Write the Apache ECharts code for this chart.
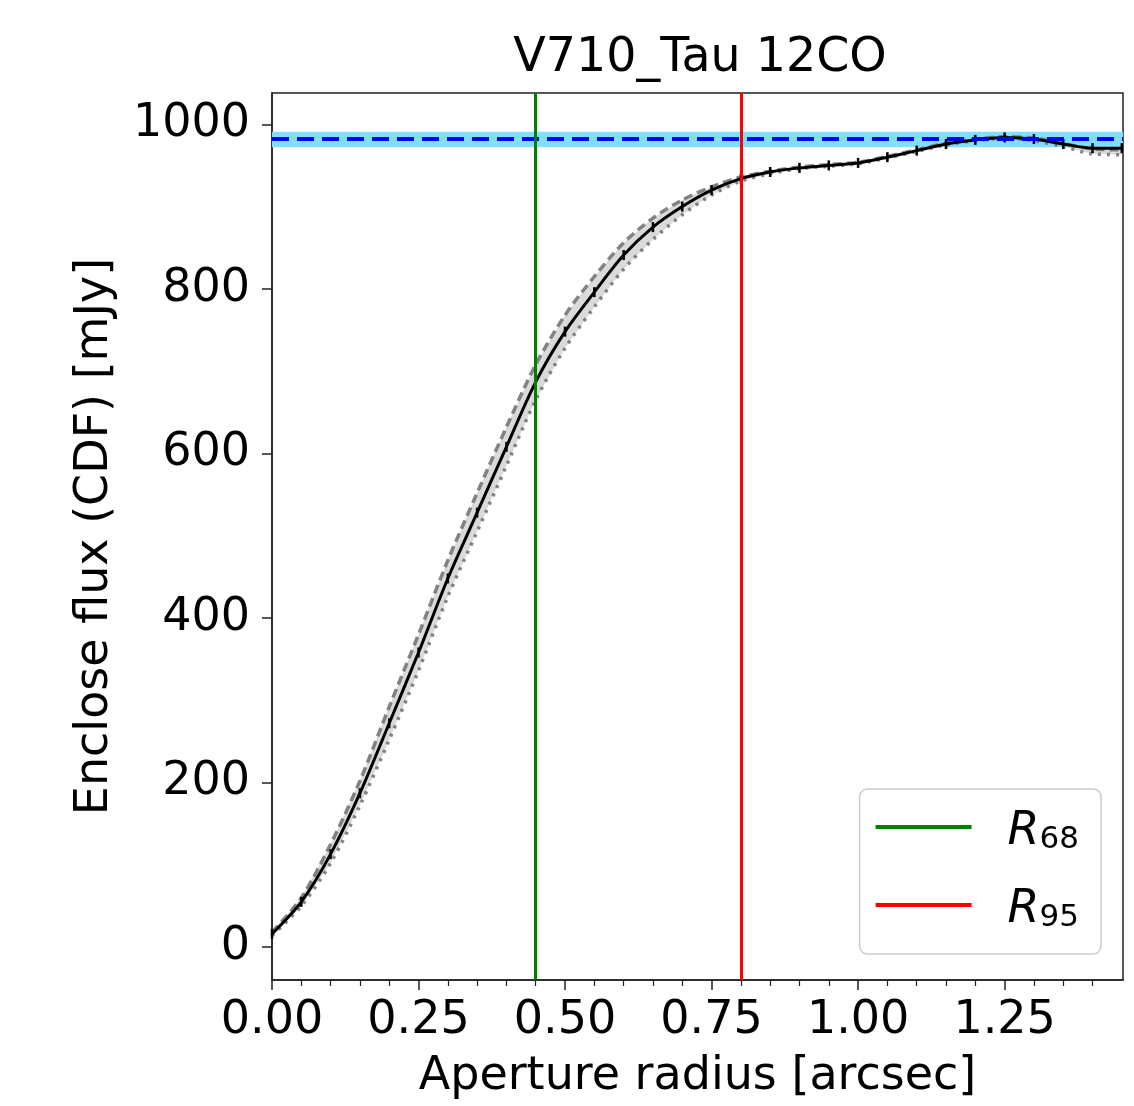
<!DOCTYPE html>
<html>
<head>
<meta charset="utf-8">
<script src="https://cdn.jsdelivr.net/npm/echarts@6/dist/echarts.min.js"></script>
<style>
html,body{margin:0;padding:0;background:#fff;}
#chart{width:1134px;height:1106px;}
</style>
</head>
<body>
<div id="chart"></div>
<script>
// ---- data ----
const radius = [0.00,0.05,0.10,0.15,0.20,0.25,0.30,0.35,0.40,0.45,0.50,0.55,0.60,0.65,0.70,0.75,0.80,0.85,0.90,0.95,1.00,1.05,1.10,1.15,1.20,1.25,1.30,1.35,1.40,1.45];
const flux = [16,55,113,187,272,358,448,528,608,687,748,796,841,875,900,920,934,942,947,950,953,960,968,976,981,984,982,976,971,971];
const fluxUpper = [18,60,125,202,292,380,470,552,632,708,768,815,856,886,908,924,936,943,948,951,954,961,969,977,982,985,983,977,970,969];
const fluxLower = [14,50,102,172,252,336,426,505,585,665,728,778,824,860,890,914,931,940,946,949,952,959,967,975,980,983,980,973,964,963];
const totalFlux = 982;
const totalFluxLow = 972;
const totalFluxHigh = 991;
const r68 = 0.45;
const r95 = 0.80;
const xTicks = [0.00,0.25,0.50,0.75,1.00,1.25];
const xMinorTicks = [0.05,0.10,0.15,0.20,0.30,0.35,0.40,0.45,0.55,0.60,0.65,0.70,0.80,0.85,0.90,0.95,1.05,1.10,1.15,1.20,1.30,1.35,1.40];
const yTicks = [0,200,400,600,800,1000];

const FONT = 'DejaVu Sans';
const pts = (ys) => radius.map((x, i) => [x, ys[i]]);

const chart = echarts.init(document.getElementById('chart'), null, {renderer: 'canvas'});
const option = {
  animation: false,
  backgroundColor: '#ffffff',
  title: {
    text: 'V710_Tau 12CO',
    left: 695, top: 30, textAlign: 'center',
    textStyle: {fontFamily: FONT, fontSize: 47.5, fontWeight: 'normal', color: '#000'}
  },
  grid: {left: 272, right: 11, top: 93, bottom: 126, show: true, borderColor: '#222', borderWidth: 1.5, backgroundColor: 'transparent'},
  legend: {
    data: ['R68', 'R95'],
    orient: 'vertical',
    right: 33, bottom: 152,
    itemWidth: 96, itemHeight: 4, itemGap: 32,
    padding: [20, 22, 21, 16],
    backgroundColor: '#fff',
    borderColor: '#cccccc', borderWidth: 1.5, borderRadius: 8,
    icon: 'rect',
    formatter: function (name) { return '{r|R}{s|' + name.slice(1) + '}'; },
    textStyle: {
      padding: [0, 0, 0, 31],
      rich: {
        r: {fontFamily: FONT, fontSize: 46, fontStyle: 'italic', color: '#000', lineHeight: 56, verticalAlign: 'bottom'},
        s: {fontFamily: FONT, fontSize: 31, color: '#000', lineHeight: 30, verticalAlign: 'bottom'}
      }
    }
  },
  xAxis: [{
    type: 'value', min: 0, max: 1.452,
    name: 'Aperture radius [arcsec]', nameLocation: 'middle', nameGap: 74,
    nameTextStyle: {fontFamily: FONT, fontSize: 46, color: '#000'},
    axisLine: {show: true, onZero: false, lineStyle: {color: '#222', width: 1.5}},
    axisTick: {show: true, inside: false, length: 10, customValues: xTicks, lineStyle: {color: '#222', width: 1.5}},
    axisLabel: {show: true, customValues: xTicks, margin: 18, fontFamily: FONT, fontSize: 46, color: '#000',
      formatter: v => v.toFixed(2)},
    splitLine: {show: false}
  }, {
    type: 'value', min: 0, max: 1.452, position: 'bottom',
    axisLine: {show: false, onZero: false},
    axisTick: {show: true, inside: false, length: 6, customValues: xMinorTicks, lineStyle: {color: '#222', width: 1.2}},
    axisLabel: {show: false},
    splitLine: {show: false}
  }],
  yAxis: {
    type: 'value', min: -40, max: 1038,
    name: 'Enclose flux (CDF) [mJy]', nameLocation: 'middle', nameGap: 154, nameRotate: 90,
    nameTextStyle: {fontFamily: FONT, fontSize: 46, color: '#000'},
    axisLine: {show: true, onZero: false, lineStyle: {color: '#222', width: 1.5}},
    axisTick: {show: true, inside: false, length: 10, customValues: yTicks, lineStyle: {color: '#222', width: 1.5}},
    axisLabel: {show: true, customValues: yTicks, margin: 22, fontFamily: FONT, fontSize: 46, color: '#000',
      formatter: v => String(v)},
    splitLine: {show: false}
  },
  series: [
    {
      name: 'total', type: 'line', data: [], z: 1, silent: true,
      markArea: {silent: true, itemStyle: {color: '#80dfff'}, label: {show: false},
        data: [[{yAxis: totalFluxLow}, {yAxis: totalFluxHigh}]]},
      markLine: {silent: true, symbol: ['none', 'none'], label: {show: false},
        lineStyle: {color: '#0000ff', width: 4, type: [17, 8]},
        data: [{yAxis: totalFlux}]}
    },
    {
      name: 'band', type: 'custom', z: 2, silent: true,
      data: [0],
      clip: true,
      renderItem: function (params, api) {
        const top = radius.map((x, i) => api.coord([x, fluxUpper[i]]));
        const bot = radius.map((x, i) => api.coord([x, fluxLower[i]])).reverse();
        return {
          type: 'polygon',
          shape: {points: top.concat(bot), smooth: 0},
          style: {fill: 'rgba(150,150,150,0.35)', stroke: 'none'}
        };
      }
    },
    {
      name: 'upper', type: 'line', data: pts(fluxUpper), symbol: 'none', smooth: 0.3, z: 3,
      lineStyle: {color: 'rgba(110,110,110,0.85)', width: 3.5, type: [9, 5]}
    },
    {
      name: 'lower', type: 'line', data: pts(fluxLower), symbol: 'none', smooth: 0.3, z: 3,
      lineStyle: {color: 'rgba(110,110,110,0.85)', width: 3.5, type: [3, 6]}
    },
    {
      name: 'flux', type: 'line', data: pts(flux), smooth: 0.3, z: 4,
      symbol: 'rect', symbolSize: [2.5, 10],
      itemStyle: {color: '#000'},
      lineStyle: {color: '#000', width: 3}
    },
    {
      name: 'R68', type: 'line', data: [], z: 6, color: '#008000',
      itemStyle: {color: '#008000'},
      markLine: {silent: true, symbol: ['none', 'none'], label: {show: false},
        lineStyle: {color: '#008000', width: 3, type: 'solid'},
        data: [{xAxis: r68}]}
    },
    {
      name: 'R95', type: 'line', data: [], z: 6, color: '#ff0000',
      itemStyle: {color: '#ff0000'},
      markLine: {silent: true, symbol: ['none', 'none'], label: {show: false},
        lineStyle: {color: '#ff0000', width: 3, type: 'solid'},
        data: [{xAxis: r95}]}
    }
  ]
};
chart.setOption(option);
</script>
</body>
</html>
